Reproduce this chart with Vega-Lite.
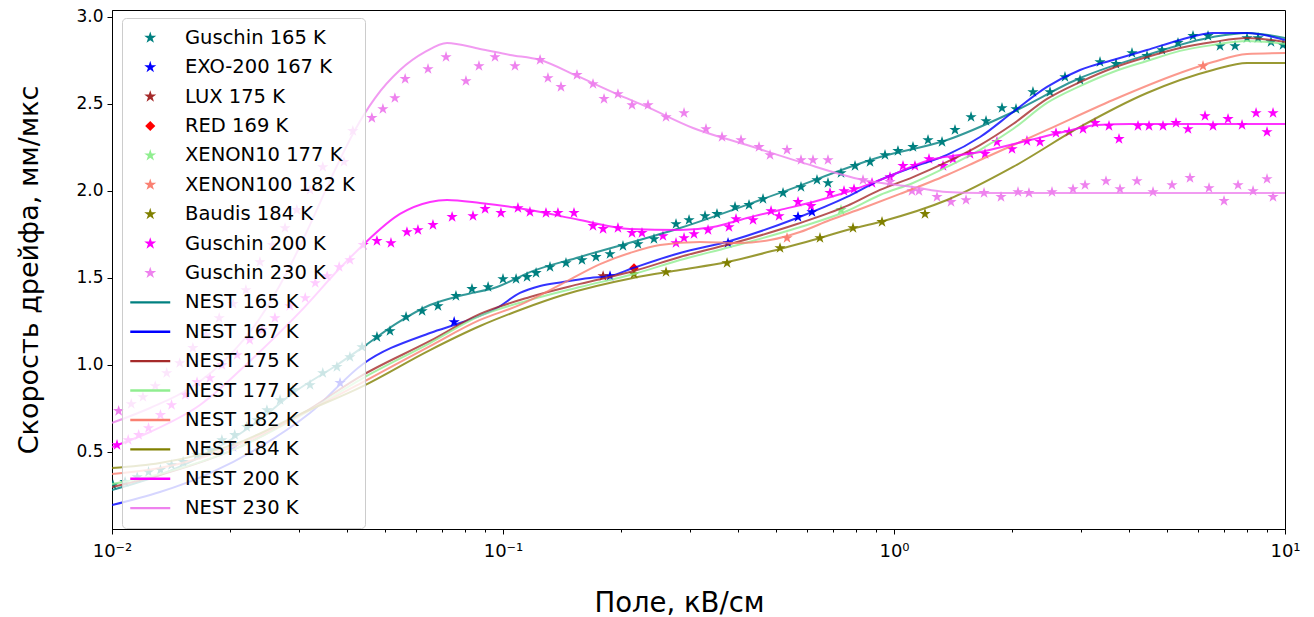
{
  "$schema": "https://vega.github.io/schema/vega-lite/v6.json",
  "width": 1173,
  "height": 519,
  "autosize": "none",
  "padding": {"left": 112, "top": 10, "right": 29, "bottom": 88},
  "background": "white",
  "config": {
    "font": "DejaVu Sans",
    "view": {"stroke": "black", "strokeWidth": 1},
    "axis": {"domainColor": "black", "tickColor": "black", "labelColor": "black", "titleColor": "black", "labelFont": "DejaVu Sans", "titleFont": "DejaVu Sans", "titleFontWeight": "normal", "grid": false, "tickWidth": 1, "domainWidth": 1},
    "legend": {"symbolStrokeWidth": 0}
  },
  "datasets": {
    "pts": [
      {"s":"Guschin 165 K","x":0.01006,"y":0.310},{"s":"Guschin 165 K","x":0.0108,"y":0.328},{"s":"Guschin 165 K","x":0.0116,"y":0.356},{"s":"Guschin 165 K","x":0.0124,"y":0.385},{"s":"Guschin 165 K","x":0.0133,"y":0.397},{"s":"Guschin 165 K","x":0.0142,"y":0.425},{"s":"Guschin 165 K","x":0.0152,"y":0.443},{"s":"Guschin 165 K","x":0.0165,"y":0.483},{"s":"Guschin 165 K","x":0.0178,"y":0.511},{"s":"Guschin 165 K","x":0.0191,"y":0.569},{"s":"Guschin 165 K","x":0.0206,"y":0.598},{"s":"Guschin 165 K","x":0.0221,"y":0.644},{"s":"Guschin 165 K","x":0.0235,"y":0.684},{"s":"Guschin 165 K","x":0.0249,"y":0.741},{"s":"Guschin 165 K","x":0.0269,"y":0.799},{"s":"Guschin 165 K","x":0.0290,"y":0.856},{"s":"Guschin 165 K","x":0.0321,"y":0.885},{"s":"Guschin 165 K","x":0.0346,"y":0.954},{"s":"Guschin 165 K","x":0.0376,"y":0.989},{"s":"Guschin 165 K","x":0.0406,"y":1.046},{"s":"Guschin 165 K","x":0.0436,"y":1.103},{"s":"Guschin 165 K","x":0.0476,"y":1.161},{"s":"Guschin 165 K","x":0.0514,"y":1.195},{"s":"Guschin 165 K","x":0.0565,"y":1.276},{"s":"Guschin 165 K","x":0.0621,"y":1.310},{"s":"Guschin 165 K","x":0.0682,"y":1.339},{"s":"Guschin 165 K","x":0.0758,"y":1.397},{"s":"Guschin 165 K","x":0.0833,"y":1.437},{"s":"Guschin 165 K","x":0.0916,"y":1.448},{"s":"Guschin 165 K","x":0.1,"y":1.494},{"s":"Guschin 165 K","x":0.108,"y":1.494},{"s":"Guschin 165 K","x":0.1152,"y":1.506},{"s":"Guschin 165 K","x":0.1215,"y":1.529},{"s":"Guschin 165 K","x":0.1319,"y":1.563},{"s":"Guschin 165 K","x":0.1449,"y":1.586},{"s":"Guschin 165 K","x":0.1592,"y":1.603},{"s":"Guschin 165 K","x":0.1729,"y":1.621},{"s":"Guschin 165 K","x":0.1878,"y":1.638},{"s":"Guschin 165 K","x":0.2027,"y":1.684},{"s":"Guschin 165 K","x":0.2214,"y":1.695},{"s":"Guschin 165 K","x":0.2433,"y":1.724},{"s":"Guschin 165 K","x":0.277,"y":1.810},{"s":"Guschin 165 K","x":0.2991,"y":1.833},{"s":"Guschin 165 K","x":0.3286,"y":1.856},{"s":"Guschin 165 K","x":0.3526,"y":1.868},{"s":"Guschin 165 K","x":0.3921,"y":1.908},{"s":"Guschin 165 K","x":0.4258,"y":1.920},{"s":"Guschin 165 K","x":0.4624,"y":1.954},{"s":"Guschin 165 K","x":0.5202,"y":1.989},{"s":"Guschin 165 K","x":0.5783,"y":2.023},{"s":"Guschin 165 K","x":0.6354,"y":2.063},{"s":"Guschin 165 K","x":0.6779,"y":2.046},{"s":"Guschin 165 K","x":0.7319,"y":2.103},{"s":"Guschin 165 K","x":0.7949,"y":2.144},{"s":"Guschin 165 K","x":0.8683,"y":2.167},{"s":"Guschin 165 K","x":0.9484,"y":2.207},{"s":"Guschin 165 K","x":1.0237,"y":2.230},{"s":"Guschin 165 K","x":1.1183,"y":2.253},{"s":"Guschin 165 K","x":1.2218,"y":2.293},{"s":"Guschin 165 K","x":1.3268,"y":2.282},{"s":"Guschin 165 K","x":1.4322,"y":2.351},{"s":"Guschin 165 K","x":1.5741,"y":2.425},{"s":"Guschin 165 K","x":1.7194,"y":2.402},{"s":"Guschin 165 K","x":1.8889,"y":2.477},{"s":"Guschin 165 K","x":2.0513,"y":2.471},{"s":"Guschin 165 K","x":2.2667,"y":2.569},{"s":"Guschin 165 K","x":2.5061,"y":2.569},{"s":"Guschin 165 K","x":2.737,"y":2.655},{"s":"Guschin 165 K","x":2.9907,"y":2.638},{"s":"Guschin 165 K","x":3.3643,"y":2.741},{"s":"Guschin 165 K","x":3.6967,"y":2.730},{"s":"Guschin 165 K","x":4.0615,"y":2.793},{"s":"Guschin 165 K","x":4.4371,"y":2.776},{"s":"Guschin 165 K","x":4.8466,"y":2.810},{"s":"Guschin 165 K","x":5.3251,"y":2.851},{"s":"Guschin 165 K","x":5.8172,"y":2.891},{"s":"Guschin 165 K","x":6.3551,"y":2.891},{"s":"Guschin 165 K","x":6.8209,"y":2.833},{"s":"Guschin 165 K","x":7.4507,"y":2.833},{"s":"Guschin 165 K","x":7.9968,"y":2.879},{"s":"Guschin 165 K","x":8.5329,"y":2.879},{"s":"Guschin 165 K","x":9.2099,"y":2.856},{"s":"Guschin 165 K","x":9.8832,"y":2.839},
      {"s":"EXO-200 167 K","x":0.0204,"y":0.529},{"s":"EXO-200 167 K","x":0.0383,"y":0.897},{"s":"EXO-200 167 K","x":0.075,"y":1.247},{"s":"EXO-200 167 K","x":0.1878,"y":1.511},{"s":"EXO-200 167 K","x":0.3763,"y":1.701},{"s":"EXO-200 167 K","x":0.5682,"y":1.851},{"s":"EXO-200 167 K","x":0.617,"y":1.879},
      {"s":"LUX 175 K","x":0.1803,"y":1.511},
      {"s":"RED 169 K","x":0.2163,"y":1.557},
      {"s":"XENON10 177 K","x":0.7319,"y":1.891},
      {"s":"XENON100 182 K","x":0.5326,"y":1.730},{"s":"XENON100 182 K","x":6.1704,"y":2.718},
      {"s":"Baudis 184 K","x":0.2163,"y":1.523},{"s":"Baudis 184 K","x":0.2612,"y":1.534},{"s":"Baudis 184 K","x":0.3741,"y":1.586},{"s":"Baudis 184 K","x":0.5111,"y":1.672},{"s":"Baudis 184 K","x":0.6467,"y":1.730},{"s":"Baudis 184 K","x":0.7856,"y":1.787},{"s":"Baudis 184 K","x":0.9318,"y":1.822},{"s":"Baudis 184 K","x":1.2001,"y":1.868},
      {"s":"Guschin 200 K","x":0.0103,"y":0.540},{"s":"Guschin 200 K","x":0.011,"y":0.569},{"s":"Guschin 200 K","x":0.0117,"y":0.598},{"s":"Guschin 200 K","x":0.0124,"y":0.638},{"s":"Guschin 200 K","x":0.0133,"y":0.713},{"s":"Guschin 200 K","x":0.0142,"y":0.770},{"s":"Guschin 200 K","x":0.0154,"y":0.828},{"s":"Guschin 200 K","x":0.0165,"y":0.902},{"s":"Guschin 200 K","x":0.0178,"y":0.925},{"s":"Guschin 200 K","x":0.0191,"y":1.000},{"s":"Guschin 200 K","x":0.0209,"y":1.057},{"s":"Guschin 200 K","x":0.0225,"y":1.144},{"s":"Guschin 200 K","x":0.0242,"y":1.201},{"s":"Guschin 200 K","x":0.0261,"y":1.270},{"s":"Guschin 200 K","x":0.0285,"y":1.339},{"s":"Guschin 200 K","x":0.0312,"y":1.385},{"s":"Guschin 200 K","x":0.0331,"y":1.471},{"s":"Guschin 200 K","x":0.0355,"y":1.511},{"s":"Guschin 200 K","x":0.0381,"y":1.563},{"s":"Guschin 200 K","x":0.0406,"y":1.603},{"s":"Guschin 200 K","x":0.0439,"y":1.690},{"s":"Guschin 200 K","x":0.0476,"y":1.713},{"s":"Guschin 200 K","x":0.0517,"y":1.701},{"s":"Guschin 200 K","x":0.0568,"y":1.764},{"s":"Guschin 200 K","x":0.0606,"y":1.776},{"s":"Guschin 200 K","x":0.0662,"y":1.805},{"s":"Guschin 200 K","x":0.0741,"y":1.851},{"s":"Guschin 200 K","x":0.0838,"y":1.856},{"s":"Guschin 200 K","x":0.09,"y":1.897},{"s":"Guschin 200 K","x":0.0988,"y":1.874},{"s":"Guschin 200 K","x":0.1092,"y":1.902},{"s":"Guschin 200 K","x":0.1172,"y":1.879},{"s":"Guschin 200 K","x":0.1288,"y":1.874},{"s":"Guschin 200 K","x":0.1382,"y":1.874},{"s":"Guschin 200 K","x":0.1519,"y":1.874},{"s":"Guschin 200 K","x":0.1699,"y":1.799},{"s":"Guschin 200 K","x":0.1803,"y":1.782},{"s":"Guschin 200 K","x":0.1968,"y":1.787},{"s":"Guschin 200 K","x":0.2138,"y":1.759},{"s":"Guschin 200 K","x":0.2267,"y":1.759},{"s":"Guschin 200 K","x":0.2565,"y":1.741},{"s":"Guschin 200 K","x":0.277,"y":1.701},{"s":"Guschin 200 K","x":0.2904,"y":1.730},{"s":"Guschin 200 K","x":0.308,"y":1.753},{"s":"Guschin 200 K","x":0.3345,"y":1.776},{"s":"Guschin 200 K","x":0.3784,"y":1.793},{"s":"Guschin 200 K","x":0.3944,"y":1.839},{"s":"Guschin 200 K","x":0.436,"y":1.833},{"s":"Guschin 200 K","x":0.4848,"y":1.885},{"s":"Guschin 200 K","x":0.5082,"y":1.856},{"s":"Guschin 200 K","x":0.5682,"y":1.937},{"s":"Guschin 200 K","x":0.6133,"y":1.914},{"s":"Guschin 200 K","x":0.6859,"y":1.989},{"s":"Guschin 200 K","x":0.745,"y":2.000},{"s":"Guschin 200 K","x":0.7902,"y":2.011},{"s":"Guschin 200 K","x":0.8786,"y":2.046},{"s":"Guschin 200 K","x":0.9768,"y":2.080},{"s":"Guschin 200 K","x":1.0544,"y":2.144},{"s":"Guschin 200 K","x":1.1314,"y":2.144},{"s":"Guschin 200 K","x":1.2289,"y":2.184},{"s":"Guschin 200 K","x":1.3346,"y":2.144},{"s":"Guschin 200 K","x":1.4157,"y":2.184},{"s":"Guschin 200 K","x":1.5648,"y":2.213},{"s":"Guschin 200 K","x":1.7092,"y":2.213},{"s":"Guschin 200 K","x":1.834,"y":2.282},{"s":"Guschin 200 K","x":2.0037,"y":2.241},{"s":"Guschin 200 K","x":2.1881,"y":2.287},{"s":"Guschin 200 K","x":2.3625,"y":2.282},{"s":"Guschin 200 K","x":2.596,"y":2.333},{"s":"Guschin 200 K","x":2.8026,"y":2.339},{"s":"Guschin 200 K","x":3.0441,"y":2.356},{"s":"Guschin 200 K","x":3.2665,"y":2.391},{"s":"Guschin 200 K","x":3.5471,"y":2.374},{"s":"Guschin 200 K","x":3.7623,"y":2.299},{"s":"Guschin 200 K","x":4.2078,"y":2.374},{"s":"Guschin 200 K","x":4.4896,"y":2.374},{"s":"Guschin 200 K","x":4.8751,"y":2.374},{"s":"Guschin 200 K","x":5.263,"y":2.391},{"s":"Guschin 200 K","x":5.648,"y":2.356},{"s":"Guschin 200 K","x":6.2434,"y":2.431},{"s":"Guschin 200 K","x":6.545,"y":2.374},{"s":"Guschin 200 K","x":7.1498,"y":2.414},{"s":"Guschin 200 K","x":7.7645,"y":2.379},{"s":"Guschin 200 K","x":8.433,"y":2.448},{"s":"Guschin 200 K","x":8.995,"y":2.339},{"s":"Guschin 200 K","x":9.319,"y":2.448},
      {"s":"Guschin 230 K","x":0.0104,"y":0.736},{"s":"Guschin 230 K","x":0.0112,"y":0.776},{"s":"Guschin 230 K","x":0.012,"y":0.816},{"s":"Guschin 230 K","x":0.0129,"y":0.879},{"s":"Guschin 230 K","x":0.0138,"y":0.954},{"s":"Guschin 230 K","x":0.0149,"y":1.011},{"s":"Guschin 230 K","x":0.0161,"y":1.098},{"s":"Guschin 230 K","x":0.0174,"y":1.172},{"s":"Guschin 230 K","x":0.0188,"y":1.270},{"s":"Guschin 230 K","x":0.0204,"y":1.351},{"s":"Guschin 230 K","x":0.022,"y":1.431},{"s":"Guschin 230 K","x":0.0239,"y":1.592},{"s":"Guschin 230 K","x":0.0257,"y":1.690},{"s":"Guschin 230 K","x":0.0277,"y":1.787},{"s":"Guschin 230 K","x":0.0297,"y":1.891},{"s":"Guschin 230 K","x":0.0321,"y":2.006},{"s":"Guschin 230 K","x":0.0346,"y":2.138},{"s":"Guschin 230 K","x":0.0392,"y":2.167},{"s":"Guschin 230 K","x":0.0413,"y":2.345},{"s":"Guschin 230 K","x":0.0462,"y":2.420},{"s":"Guschin 230 K","x":0.0493,"y":2.471},{"s":"Guschin 230 K","x":0.0529,"y":2.534},{"s":"Guschin 230 K","x":0.0562,"y":2.644},{"s":"Guschin 230 K","x":0.0643,"y":2.701},{"s":"Guschin 230 K","x":0.0715,"y":2.770},{"s":"Guschin 230 K","x":0.0804,"y":2.632},{"s":"Guschin 230 K","x":0.0868,"y":2.718},{"s":"Guschin 230 K","x":0.0954,"y":2.770},{"s":"Guschin 230 K","x":0.1073,"y":2.718},{"s":"Guschin 230 K","x":0.1244,"y":2.753},{"s":"Guschin 230 K","x":0.1303,"y":2.649},{"s":"Guschin 230 K","x":0.1407,"y":2.598},{"s":"Guschin 230 K","x":0.1546,"y":2.667},{"s":"Guschin 230 K","x":0.1699,"y":2.615},{"s":"Guschin 230 K","x":0.1813,"y":2.529},{"s":"Guschin 230 K","x":0.1968,"y":2.557},{"s":"Guschin 230 K","x":0.2138,"y":2.494},{"s":"Guschin 230 K","x":0.2349,"y":2.494},{"s":"Guschin 230 K","x":0.2612,"y":2.425},{"s":"Guschin 230 K","x":0.2904,"y":2.448},{"s":"Guschin 230 K","x":0.3305,"y":2.356},{"s":"Guschin 230 K","x":0.3632,"y":2.310},{"s":"Guschin 230 K","x":0.4062,"y":2.293},{"s":"Guschin 230 K","x":0.4516,"y":2.253},{"s":"Guschin 230 K","x":0.4819,"y":2.207},{"s":"Guschin 230 K","x":0.5326,"y":2.236},{"s":"Guschin 230 K","x":0.5783,"y":2.178},{"s":"Guschin 230 K","x":0.6206,"y":2.178},{"s":"Guschin 230 K","x":0.6779,"y":2.178},{"s":"Guschin 230 K","x":0.8332,"y":2.063},{"s":"Guschin 230 K","x":0.9768,"y":2.052},{"s":"Guschin 230 K","x":1.1117,"y":2.000},{"s":"Guschin 230 K","x":1.1583,"y":2.000},{"s":"Guschin 230 K","x":1.2882,"y":1.966},{"s":"Guschin 230 K","x":1.3992,"y":1.937},{"s":"Guschin 230 K","x":1.5283,"y":1.948},{"s":"Guschin 230 K","x":1.6994,"y":1.989},{"s":"Guschin 230 K","x":1.8779,"y":1.966},{"s":"Guschin 230 K","x":2.0756,"y":1.994},{"s":"Guschin 230 K","x":2.214,"y":1.989},{"s":"Guschin 230 K","x":2.5357,"y":1.994},{"s":"Guschin 230 K","x":2.8695,"y":2.011},{"s":"Guschin 230 K","x":3.0801,"y":2.034},{"s":"Guschin 230 K","x":3.4848,"y":2.057},{"s":"Guschin 230 K","x":3.7844,"y":2.011},{"s":"Guschin 230 K","x":4.1832,"y":2.057},{"s":"Guschin 230 K","x":4.5967,"y":1.994},{"s":"Guschin 230 K","x":5.1406,"y":2.034},{"s":"Guschin 230 K","x":5.7148,"y":2.075},{"s":"Guschin 230 K","x":6.3925,"y":2.017},{"s":"Guschin 230 K","x":6.9834,"y":1.943},{"s":"Guschin 230 K","x":7.5837,"y":2.034},{"s":"Guschin 230 K","x":8.2853,"y":2.000},{"s":"Guschin 230 K","x":8.995,"y":2.069},{"s":"Guschin 230 K","x":9.319,"y":1.966}
    ],
    "lines": [
      {"s":"NEST 165 K","x":0.01,"y":0.282},{"s":"NEST 165 K","x":0.01326,"y":0.368},{"s":"NEST 165 K","x":0.01781,"y":0.500},{"s":"NEST 165 K","x":0.02349,"y":0.672},{"s":"NEST 165 K","x":0.02904,"y":0.839},{"s":"NEST 165 K","x":0.03762,"y":1.000},{"s":"NEST 165 K","x":0.04385,"y":1.103},{"s":"NEST 165 K","x":0.05356,"y":1.241},{"s":"NEST 165 K","x":0.06506,"y":1.345},{"s":"NEST 165 K","x":0.07904,"y":1.402},{"s":"NEST 165 K","x":0.09654,"y":1.448},{"s":"NEST 165 K","x":0.1172,"y":1.534},{"s":"NEST 165 K","x":0.1573,"y":1.621},{"s":"NEST 165 K","x":0.2836,"y":1.787},{"s":"NEST 165 K","x":0.5111,"y":1.989},{"s":"NEST 165 K","x":0.9209,"y":2.195},{"s":"NEST 165 K","x":1.3665,"y":2.293},{"s":"NEST 165 K","x":2.0155,"y":2.454},{"s":"NEST 165 K","x":2.9907,"y":2.649},{"s":"NEST 165 K","x":4.4371,"y":2.782},{"s":"NEST 165 K","x":6.545,"y":2.885},{"s":"NEST 165 K","x":7.9968,"y":2.908},{"s":"NEST 165 K","x":10,"y":2.879},
      {"s":"NEST 167 K","x":0.01,"y":0.195},{"s":"NEST 167 K","x":0.01326,"y":0.270},{"s":"NEST 167 K","x":0.01781,"y":0.379},{"s":"NEST 167 K","x":0.0239,"y":0.529},{"s":"NEST 167 K","x":0.03208,"y":0.724},{"s":"NEST 167 K","x":0.04385,"y":1.006},{"s":"NEST 167 K","x":0.06506,"y":1.184},{"s":"NEST 167 K","x":0.07904,"y":1.247},{"s":"NEST 167 K","x":0.09654,"y":1.328},{"s":"NEST 167 K","x":0.1105,"y":1.414},{"s":"NEST 167 K","x":0.1244,"y":1.454},{"s":"NEST 167 K","x":0.1424,"y":1.477},{"s":"NEST 167 K","x":0.1669,"y":1.500},{"s":"NEST 167 K","x":0.1878,"y":1.511},{"s":"NEST 167 K","x":0.215,"y":1.557},{"s":"NEST 167 K","x":0.2836,"y":1.644},{"s":"NEST 167 K","x":0.3807,"y":1.713},{"s":"NEST 167 K","x":0.5649,"y":1.845},{"s":"NEST 167 K","x":0.7583,"y":1.966},{"s":"NEST 167 K","x":0.9209,"y":2.063},{"s":"NEST 167 K","x":1.1183,"y":2.138},{"s":"NEST 167 K","x":1.3665,"y":2.207},{"s":"NEST 167 K","x":1.6596,"y":2.310},{"s":"NEST 167 K","x":2.0155,"y":2.454},{"s":"NEST 167 K","x":2.4623,"y":2.598},{"s":"NEST 167 K","x":2.9907,"y":2.695},{"s":"NEST 167 K","x":3.6318,"y":2.753},{"s":"NEST 167 K","x":4.4371,"y":2.810},{"s":"NEST 167 K","x":5.3885,"y":2.868},{"s":"NEST 167 K","x":6.545,"y":2.908},{"s":"NEST 167 K","x":7.9968,"y":2.908},{"s":"NEST 167 K","x":10,"y":2.868},
      {"s":"NEST 175 K","x":0.01,"y":0.299},{"s":"NEST 175 K","x":0.01326,"y":0.368},{"s":"NEST 175 K","x":0.02125,"y":0.529},{"s":"NEST 175 K","x":0.03026,"y":0.713},{"s":"NEST 175 K","x":0.04385,"y":0.943},{"s":"NEST 175 K","x":0.06506,"y":1.138},{"s":"NEST 175 K","x":0.08735,"y":1.293},{"s":"NEST 175 K","x":0.1172,"y":1.391},{"s":"NEST 175 K","x":0.1573,"y":1.466},{"s":"NEST 175 K","x":0.2163,"y":1.540},{"s":"NEST 175 K","x":0.2836,"y":1.621},{"s":"NEST 175 K","x":0.3807,"y":1.695},{"s":"NEST 175 K","x":0.5649,"y":1.810},{"s":"NEST 175 K","x":0.7583,"y":1.914},{"s":"NEST 175 K","x":0.9209,"y":2.006},{"s":"NEST 175 K","x":1.1183,"y":2.080},{"s":"NEST 175 K","x":1.3665,"y":2.167},{"s":"NEST 175 K","x":1.6596,"y":2.264},{"s":"NEST 175 K","x":2.0155,"y":2.385},{"s":"NEST 175 K","x":2.4623,"y":2.529},{"s":"NEST 175 K","x":2.9907,"y":2.626},{"s":"NEST 175 K","x":3.6318,"y":2.707},{"s":"NEST 175 K","x":4.4371,"y":2.770},{"s":"NEST 175 K","x":5.3885,"y":2.822},{"s":"NEST 175 K","x":6.545,"y":2.856},{"s":"NEST 175 K","x":7.9968,"y":2.879},{"s":"NEST 175 K","x":10,"y":2.856},
      {"s":"NEST 177 K","x":0.01,"y":0.316},{"s":"NEST 177 K","x":0.01326,"y":0.374},{"s":"NEST 177 K","x":0.02125,"y":0.529},{"s":"NEST 177 K","x":0.03026,"y":0.707},{"s":"NEST 177 K","x":0.04385,"y":0.925},{"s":"NEST 177 K","x":0.06506,"y":1.126},{"s":"NEST 177 K","x":0.08735,"y":1.282},{"s":"NEST 177 K","x":0.1172,"y":1.374},{"s":"NEST 177 K","x":0.1573,"y":1.448},{"s":"NEST 177 K","x":0.2163,"y":1.523},{"s":"NEST 177 K","x":0.2836,"y":1.603},{"s":"NEST 177 K","x":0.3807,"y":1.678},{"s":"NEST 177 K","x":0.5649,"y":1.787},{"s":"NEST 177 K","x":0.7583,"y":1.885},{"s":"NEST 177 K","x":0.9209,"y":1.977},{"s":"NEST 177 K","x":1.1183,"y":2.046},{"s":"NEST 177 K","x":1.3665,"y":2.138},{"s":"NEST 177 K","x":1.6596,"y":2.236},{"s":"NEST 177 K","x":2.0155,"y":2.356},{"s":"NEST 177 K","x":2.4623,"y":2.506},{"s":"NEST 177 K","x":2.9907,"y":2.603},{"s":"NEST 177 K","x":3.6318,"y":2.684},{"s":"NEST 177 K","x":4.4371,"y":2.747},{"s":"NEST 177 K","x":5.3885,"y":2.805},{"s":"NEST 177 K","x":6.545,"y":2.839},{"s":"NEST 177 K","x":7.9968,"y":2.862},{"s":"NEST 177 K","x":10,"y":2.845},
      {"s":"NEST 182 K","x":0.01,"y":0.374},{"s":"NEST 182 K","x":0.01326,"y":0.408},{"s":"NEST 182 K","x":0.02125,"y":0.546},{"s":"NEST 182 K","x":0.03026,"y":0.713},{"s":"NEST 182 K","x":0.04385,"y":0.902},{"s":"NEST 182 K","x":0.06506,"y":1.109},{"s":"NEST 182 K","x":0.08735,"y":1.259},{"s":"NEST 182 K","x":0.1105,"y":1.345},{"s":"NEST 182 K","x":0.1399,"y":1.460},{"s":"NEST 182 K","x":0.1771,"y":1.580},{"s":"NEST 182 K","x":0.2112,"y":1.644},{"s":"NEST 182 K","x":0.2521,"y":1.690},{"s":"NEST 182 K","x":0.319,"y":1.707},{"s":"NEST 182 K","x":0.4037,"y":1.701},{"s":"NEST 182 K","x":0.4819,"y":1.718},{"s":"NEST 182 K","x":0.5749,"y":1.764},{"s":"NEST 182 K","x":0.6859,"y":1.833},{"s":"NEST 182 K","x":0.8332,"y":1.902},{"s":"NEST 182 K","x":1.0359,"y":1.983},{"s":"NEST 182 K","x":1.3665,"y":2.092},{"s":"NEST 182 K","x":1.6596,"y":2.178},{"s":"NEST 182 K","x":2.4623,"y":2.351},{"s":"NEST 182 K","x":3.6318,"y":2.523},{"s":"NEST 182 K","x":5.3885,"y":2.678},{"s":"NEST 182 K","x":6.545,"y":2.741},{"s":"NEST 182 K","x":7.9968,"y":2.787},{"s":"NEST 182 K","x":10,"y":2.793},
      {"s":"NEST 184 K","x":0.01,"y":0.408},{"s":"NEST 184 K","x":0.01326,"y":0.437},{"s":"NEST 184 K","x":0.02125,"y":0.557},{"s":"NEST 184 K","x":0.03026,"y":0.718},{"s":"NEST 184 K","x":0.04385,"y":0.879},{"s":"NEST 184 K","x":0.06506,"y":1.086},{"s":"NEST 184 K","x":0.08735,"y":1.224},{"s":"NEST 184 K","x":0.1105,"y":1.316},{"s":"NEST 184 K","x":0.1424,"y":1.402},{"s":"NEST 184 K","x":0.215,"y":1.500},{"s":"NEST 184 K","x":0.2836,"y":1.546},{"s":"NEST 184 K","x":0.3741,"y":1.592},{"s":"NEST 184 K","x":0.5111,"y":1.667},{"s":"NEST 184 K","x":0.6206,"y":1.718},{"s":"NEST 184 K","x":0.7583,"y":1.776},{"s":"NEST 184 K","x":0.9209,"y":1.822},{"s":"NEST 184 K","x":1.3665,"y":1.948},{"s":"NEST 184 K","x":2.0155,"y":2.138},{"s":"NEST 184 K","x":2.9907,"y":2.368},{"s":"NEST 184 K","x":4.4371,"y":2.563},{"s":"NEST 184 K","x":6.545,"y":2.695},{"s":"NEST 184 K","x":7.9968,"y":2.736},{"s":"NEST 184 K","x":10,"y":2.736},
      {"s":"NEST 200 K","x":0.01,"y":0.529},{"s":"NEST 200 K","x":0.01251,"y":0.615},{"s":"NEST 200 K","x":0.01679,"y":0.770},{"s":"NEST 200 K","x":0.02254,"y":1.023},{"s":"NEST 200 K","x":0.03026,"y":1.305},{"s":"NEST 200 K","x":0.0383,"y":1.557},{"s":"NEST 200 K","x":0.04385,"y":1.690},{"s":"NEST 200 K","x":0.05452,"y":1.868},{"s":"NEST 200 K","x":0.06506,"y":1.937},{"s":"NEST 200 K","x":0.07192,"y":1.948},{"s":"NEST 200 K","x":0.08735,"y":1.931},{"s":"NEST 200 K","x":0.1172,"y":1.891},{"s":"NEST 200 K","x":0.1573,"y":1.833},{"s":"NEST 200 K","x":0.2112,"y":1.782},{"s":"NEST 200 K","x":0.2836,"y":1.776},{"s":"NEST 200 K","x":0.3444,"y":1.793},{"s":"NEST 200 K","x":0.4207,"y":1.845},{"s":"NEST 200 K","x":0.5111,"y":1.891},{"s":"NEST 200 K","x":0.6206,"y":1.937},{"s":"NEST 200 K","x":0.7583,"y":1.994},{"s":"NEST 200 K","x":0.9209,"y":2.063},{"s":"NEST 200 K","x":1.236,"y":2.178},{"s":"NEST 200 K","x":1.6596,"y":2.224},{"s":"NEST 200 K","x":2.227,"y":2.293},{"s":"NEST 200 K","x":2.705,"y":2.339},{"s":"NEST 200 K","x":3.305,"y":2.379},{"s":"NEST 200 K","x":4.014,"y":2.385},{"s":"NEST 200 K","x":10,"y":2.385},
      {"s":"NEST 230 K","x":0.01,"y":0.667},{"s":"NEST 230 K","x":0.01251,"y":0.753},{"s":"NEST 230 K","x":0.01585,"y":0.868},{"s":"NEST 230 K","x":0.02003,"y":1.057},{"s":"NEST 230 K","x":0.0239,"y":1.270},{"s":"NEST 230 K","x":0.02803,"y":1.534},{"s":"NEST 230 K","x":0.03208,"y":1.805},{"s":"NEST 230 K","x":0.03718,"y":2.121},{"s":"NEST 230 K","x":0.04183,"y":2.351},{"s":"NEST 230 K","x":0.04706,"y":2.534},{"s":"NEST 230 K","x":0.05452,"y":2.695},{"s":"NEST 230 K","x":0.06318,"y":2.799},{"s":"NEST 230 K","x":0.07192,"y":2.851},{"s":"NEST 230 K","x":0.08735,"y":2.816},{"s":"NEST 230 K","x":0.1042,"y":2.782},{"s":"NEST 230 K","x":0.1244,"y":2.753},{"s":"NEST 230 K","x":0.1546,"y":2.661},{"s":"NEST 230 K","x":0.1957,"y":2.557},{"s":"NEST 230 K","x":0.2335,"y":2.483},{"s":"NEST 230 K","x":0.3062,"y":2.362},{"s":"NEST 230 K","x":0.4207,"y":2.264},{"s":"NEST 230 K","x":0.5749,"y":2.167},{"s":"NEST 230 K","x":0.8332,"y":2.063},{"s":"NEST 230 K","x":1.1183,"y":2.023},{"s":"NEST 230 K","x":1.3665,"y":1.994},{"s":"NEST 230 K","x":1.6596,"y":1.989},{"s":"NEST 230 K","x":10,"y":1.989}
    ]
  },
  "layer": [
    {
      "data": {"name": "pts"},
      "mark": {"type": "point", "filled": true, "size": 140, "opacity": 1, "strokeWidth": 0, "clip": true},
      "encoding": {
        "x": {"field": "x", "type": "quantitative", "scale": {"type": "log", "domain": [0.01, 10], "nice": false},
          "axis": {"title": "Поле, кВ/см", "titleFontSize": 27.5, "titlePadding": 29, "titleX": 567, "titleAlign": "center", "labelFontSize": 18, "labelPadding": 8, "labelFlush": false, "labelOverlap": false,
            "values": [0.01,0.02,0.03,0.04,0.05,0.06,0.07,0.08,0.09,0.1,0.2,0.3,0.4,0.5,0.6,0.7,0.8,0.9,1,2,3,4,5,6,7,8,9,10],
            "labelExpr": "datum.value == 0.01 ? '10⁻²' : datum.value == 0.1 ? '10⁻¹' : datum.value == 1 ? '10⁰' : datum.value == 10 ? '10¹' : ''",
            "tickSize": {"condition": {"test": "datum.value == 0.01 || datum.value == 0.1 || datum.value == 1 || datum.value == 10", "value": 5}, "value": 3}}},
        "y": {"field": "y", "type": "quantitative", "scale": {"domain": [0.0575, 3.04], "nice": false, "zero": false},
          "axis": {"title": "Скорость дрейфа, мм/мкс", "titleFontSize": 27, "titlePadding": 32, "labelFontSize": 17, "labelPadding": 4, "tickSize": 5, "values": [0.5,1,1.5,2,2.5,3], "format": ".1f"}},
        "color": {"field": "s", "type": "nominal",
          "scale": {"domain": ["Guschin 165 K","EXO-200 167 K","LUX 175 K","RED 169 K","XENON10 177 K","XENON100 182 K","Baudis 184 K","Guschin 200 K","Guschin 230 K","NEST 165 K","NEST 167 K","NEST 175 K","NEST 177 K","NEST 182 K","NEST 184 K","NEST 200 K","NEST 230 K"],
            "range": ["#008080","#0000ff","#a52a2a","#ff0000","#90ee90","#fa8072","#808000","#ff00ff","#ee82ee","#008080","#0000ff","#a52a2a","#90ee90","#fa8072","#808000","#ff00ff","#ee82ee"]},
          "legend": {"title": null, "orient": "none", "legendX": 10, "legendY": 8, "padding": 10, "rowPadding": 8.4, "symbolSize": 160, "symbolOffset": 8.5, "labelOffset": 25, "labelFontSize": 19.5, "labelFont": "DejaVu Sans", "labelColor": "black", "labelLimit": 400, "fillColor": "rgba(255,255,255,0.8)", "strokeColor": "#cccccc", "cornerRadius": 4, "symbolStrokeWidth": 0,
            "encode": {"symbols": {"update": {"fill": {"scale": "color", "field": "value"}, "size": {"value": 160}, "strokeWidth": {"value": 0}, "opacity": {"signal": "indexof(datum.value, 'NEST') == 0 ? 0.8 : 1"}}}}}},
        "shape": {"field": "s", "type": "nominal",
          "scale": {"domain": ["Guschin 165 K","EXO-200 167 K","LUX 175 K","RED 169 K","XENON10 177 K","XENON100 182 K","Baudis 184 K","Guschin 200 K","Guschin 230 K","NEST 165 K","NEST 167 K","NEST 175 K","NEST 177 K","NEST 182 K","NEST 184 K","NEST 200 K","NEST 230 K"],
            "range": ["M0,-1L0.2245,-0.309L0.951,-0.309L0.363,0.118L0.588,0.809L0,0.382L-0.588,0.809L-0.363,0.118L-0.951,-0.309L-0.2245,-0.309Z","M0,-1L0.2245,-0.309L0.951,-0.309L0.363,0.118L0.588,0.809L0,0.382L-0.588,0.809L-0.363,0.118L-0.951,-0.309L-0.2245,-0.309Z","M0,-1L0.2245,-0.309L0.951,-0.309L0.363,0.118L0.588,0.809L0,0.382L-0.588,0.809L-0.363,0.118L-0.951,-0.309L-0.2245,-0.309Z","M-0.8,0L0,-0.8L0.8,0L0,0.8Z","M0,-1L0.2245,-0.309L0.951,-0.309L0.363,0.118L0.588,0.809L0,0.382L-0.588,0.809L-0.363,0.118L-0.951,-0.309L-0.2245,-0.309Z","M0,-1L0.2245,-0.309L0.951,-0.309L0.363,0.118L0.588,0.809L0,0.382L-0.588,0.809L-0.363,0.118L-0.951,-0.309L-0.2245,-0.309Z","M0,-1L0.2245,-0.309L0.951,-0.309L0.363,0.118L0.588,0.809L0,0.382L-0.588,0.809L-0.363,0.118L-0.951,-0.309L-0.2245,-0.309Z","M0,-1L0.2245,-0.309L0.951,-0.309L0.363,0.118L0.588,0.809L0,0.382L-0.588,0.809L-0.363,0.118L-0.951,-0.309L-0.2245,-0.309Z","M0,-1L0.2245,-0.309L0.951,-0.309L0.363,0.118L0.588,0.809L0,0.382L-0.588,0.809L-0.363,0.118L-0.951,-0.309L-0.2245,-0.309Z","M-3.16,-0.19L3.16,-0.19L3.16,0.19L-3.16,0.19Z","M-3.16,-0.19L3.16,-0.19L3.16,0.19L-3.16,0.19Z","M-3.16,-0.19L3.16,-0.19L3.16,0.19L-3.16,0.19Z","M-3.16,-0.19L3.16,-0.19L3.16,0.19L-3.16,0.19Z","M-3.16,-0.19L3.16,-0.19L3.16,0.19L-3.16,0.19Z","M-3.16,-0.19L3.16,-0.19L3.16,0.19L-3.16,0.19Z","M-3.16,-0.19L3.16,-0.19L3.16,0.19L-3.16,0.19Z","M-3.16,-0.19L3.16,-0.19L3.16,0.19L-3.16,0.19Z"]},
          "legend": {"title": null, "orient": "none", "legendX": 10, "legendY": 8, "padding": 10, "rowPadding": 8.4, "symbolSize": 160, "symbolOffset": 8.5, "labelOffset": 25, "labelFontSize": 19.5, "labelFont": "DejaVu Sans", "labelColor": "black", "labelLimit": 400, "fillColor": "rgba(255,255,255,0.8)", "strokeColor": "#cccccc", "cornerRadius": 4, "symbolStrokeWidth": 0,
            "encode": {"symbols": {"update": {"fill": {"scale": "color", "field": "value"}, "size": {"value": 160}, "strokeWidth": {"value": 0}, "opacity": {"signal": "indexof(datum.value, 'NEST') == 0 ? 0.8 : 1"}}}}}}
      }
    },
    {
      "data": {"name": "lines"},
      "mark": {"type": "line", "strokeWidth": 2, "opacity": 0.8, "interpolate": "monotone", "clip": true},
      "encoding": {
        "x": {"field": "x", "type": "quantitative"},
        "y": {"field": "y", "type": "quantitative"},
        "color": {"field": "s", "type": "nominal"}
      }
    }
  ]
}
